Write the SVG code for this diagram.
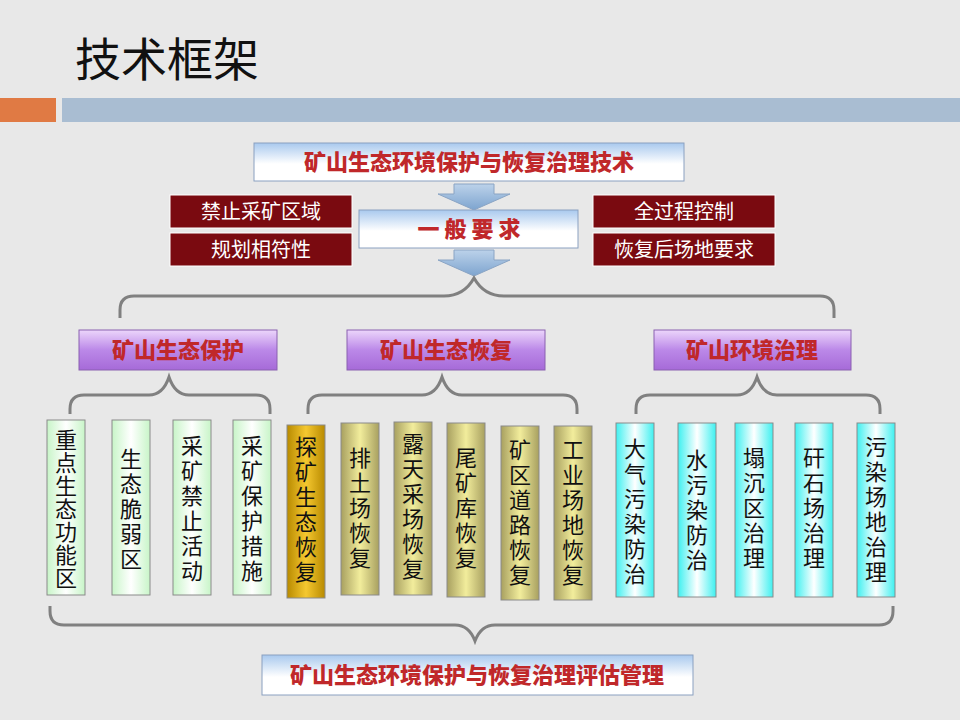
<svg xmlns="http://www.w3.org/2000/svg" width="960" height="720" viewBox="0 0 960 720">
<defs>
<linearGradient id="gBlue" x1="0" y1="0" x2="0" y2="1"><stop offset="0" stop-color="#a9c9ee"/><stop offset="0.55" stop-color="#ffffff"/><stop offset="1" stop-color="#ffffff"/></linearGradient>
<linearGradient id="gPurple" x1="0" y1="0" x2="0" y2="1"><stop offset="0" stop-color="#ecd6fb"/><stop offset="0.5" stop-color="#bb88e8"/><stop offset="1" stop-color="#a66ad8"/></linearGradient>
<linearGradient id="gGreen" x1="0" y1="0" x2="1" y2="0"><stop offset="0" stop-color="#c8f5c8"/><stop offset="0.5" stop-color="#ffffff"/><stop offset="1" stop-color="#c8f5c8"/></linearGradient>
<linearGradient id="gOlive" x1="0" y1="0" x2="1" y2="0"><stop offset="0" stop-color="#a8a060"/><stop offset="0.5" stop-color="#f2ed9c"/><stop offset="1" stop-color="#a8a060"/></linearGradient>
<linearGradient id="gGold" x1="0" y1="0" x2="1" y2="0"><stop offset="0" stop-color="#b88a00"/><stop offset="0.5" stop-color="#f5c830"/><stop offset="1" stop-color="#b88a00"/></linearGradient>
<linearGradient id="gCyan" x1="0" y1="0" x2="1" y2="0"><stop offset="0" stop-color="#3ef0f0"/><stop offset="0.5" stop-color="#ffffff"/><stop offset="1" stop-color="#3ef0f0"/></linearGradient>
<linearGradient id="gArrow" x1="0" y1="0" x2="0" y2="1"><stop offset="0" stop-color="#bcd2ea"/><stop offset="1" stop-color="#7da4cf"/></linearGradient>
</defs>
<style>
text{font-family:"Liberation Sans","Noto Sans CJK SC",sans-serif}
.hd{font-family:"Noto Sans CJK SC",serif;font-weight:900;fill:#c0282a;font-size:22px;text-anchor:middle}
.rb{fill:#7a0a10;stroke:#ffffff;stroke-width:1}
.rt{fill:#ffffff;font-size:20px;text-anchor:middle}
.vt{font-size:22px;fill:#111;text-anchor:middle}
.br{fill:none;stroke:#808080;stroke-width:3}
.col{stroke:#8a8a8a;stroke-width:1}
</style>
<rect width="960" height="720" fill="#e8e8e8"/>
<text x="75" y="76" font-size="46" fill="#111" font-family="Noto Sans CJK SC,sans-serif">技术框架</text>
<rect x="0" y="98" width="56" height="24" fill="#e07a44"/>
<rect x="62" y="98" width="898" height="24" fill="#a9bdd2"/>

<g id="connectors">
<path d="M454 184h40v10h16l-36 16l-36-16h16z" fill="url(#gArrow)" stroke="#8aa4c4"/>
<path d="M454 250h40v10h16l-36 16l-36-16h16z" fill="url(#gArrow)" stroke="#8aa4c4"/>
<path class="br" d="M120 318v-8q0-14 14-14h310q20 0 30-18q10 18 30 18h316q14 0 14 14v8"/>
<path class="br" d="M70 414v-5q0-14 14-14h65q14 0 20-18q6 18 20 18h67q14 0 14 14v5"/>
<path class="br" d="M308 414v-5q0-14 14-14h100q14 0 20-18q6 18 20 18h101q14 0 14 14v5"/>
<path class="br" d="M636 414v-5q0-14 14-14h87q14 0 20-18q6 18 20 18h89q14 0 14 14v5"/>
<path class="br" d="M50 606v5q0 14 14 14h391q14 0 20 16q6-16 20-16h384q14 0 14-14v-5"/>
</g>

<g id="top"><rect x="254" y="143" width="430" height="38" fill="url(#gBlue)" stroke="#8aa0c0"/><text class="hd" x="469" y="170">矿山生态环境保护与恢复治理技术</text></g>
<g id="general"><rect x="359" y="210" width="219" height="38" fill="url(#gBlue)" stroke="#8aa0c0"/><text class="hd" x="469" y="237" font-size="22">一  般  要  求</text></g>
<g id="r1"><rect class="rb" x="170" y="195" width="182" height="33"/><text class="rt" x="261" y="219">禁止采矿区域</text></g>
<g id="r2"><rect class="rb" x="170" y="233" width="182" height="33"/><text class="rt" x="261" y="257">规划相符性</text></g>
<g id="r3"><rect class="rb" x="593" y="195" width="182" height="33"/><text class="rt" x="684" y="219">全过程控制</text></g>
<g id="r4"><rect class="rb" x="593" y="233" width="182" height="33"/><text class="rt" x="684" y="257">恢复后场地要求</text></g>

<g id="p1"><rect x="79" y="330" width="198" height="40" fill="url(#gPurple)" stroke="#8a60b0"/><text class="hd" x="178" y="358">矿山生态保护</text></g>
<g id="p2"><rect x="347" y="330" width="198" height="40" fill="url(#gPurple)" stroke="#8a60b0"/><text class="hd" x="446" y="358">矿山生态恢复</text></g>
<g id="p3"><rect x="654" y="330" width="197" height="40" fill="url(#gPurple)" stroke="#8a60b0"/><text class="hd" x="752" y="358">矿山环境治理</text></g>

<g id="g1"><rect class="col" x="47" y="420" width="38" height="175" fill="url(#gGreen)"/><text class="vt" x="66"><tspan x="66" y="448">重</tspan><tspan x="66" y="471">点</tspan><tspan x="66" y="494">生</tspan><tspan x="66" y="517">态</tspan><tspan x="66" y="540">功</tspan><tspan x="66" y="563">能</tspan><tspan x="66" y="586">区</tspan></text></g>
<g id="g2"><rect class="col" x="112" y="420" width="38" height="175" fill="url(#gGreen)"/><text class="vt"><tspan x="131" y="467">生</tspan><tspan x="131" y="492">态</tspan><tspan x="131" y="517">脆</tspan><tspan x="131" y="542">弱</tspan><tspan x="131" y="567">区</tspan></text></g>
<g id="g3"><rect class="col" x="173" y="420" width="38" height="175" fill="url(#gGreen)"/><text class="vt"><tspan x="192" y="454">采</tspan><tspan x="192" y="479">矿</tspan><tspan x="192" y="504">禁</tspan><tspan x="192" y="529">止</tspan><tspan x="192" y="554">活</tspan><tspan x="192" y="579">动</tspan></text></g>
<g id="g4"><rect class="col" x="233" y="420" width="38" height="175" fill="url(#gGreen)"/><text class="vt"><tspan x="252" y="454">采</tspan><tspan x="252" y="479">矿</tspan><tspan x="252" y="504">保</tspan><tspan x="252" y="529">护</tspan><tspan x="252" y="554">措</tspan><tspan x="252" y="579">施</tspan></text></g>

<g id="o1"><rect class="col" x="287" y="425" width="38" height="173" fill="url(#gGold)"/><text class="vt"><tspan x="306" y="455">探</tspan><tspan x="306" y="480">矿</tspan><tspan x="306" y="505">生</tspan><tspan x="306" y="530">态</tspan><tspan x="306" y="555">恢</tspan><tspan x="306" y="580">复</tspan></text></g>
<g id="o2"><rect class="col" x="341" y="423" width="38" height="172" fill="url(#gOlive)"/><text class="vt"><tspan x="360" y="466">排</tspan><tspan x="360" y="491">土</tspan><tspan x="360" y="516">场</tspan><tspan x="360" y="541">恢</tspan><tspan x="360" y="566">复</tspan></text></g>
<g id="o3"><rect class="col" x="394" y="422" width="38" height="173" fill="url(#gOlive)"/><text class="vt"><tspan x="413" y="452">露</tspan><tspan x="413" y="477">天</tspan><tspan x="413" y="502">采</tspan><tspan x="413" y="527">场</tspan><tspan x="413" y="552">恢</tspan><tspan x="413" y="577">复</tspan></text></g>
<g id="o4"><rect class="col" x="447" y="423" width="38" height="174" fill="url(#gOlive)"/><text class="vt"><tspan x="466" y="466">尾</tspan><tspan x="466" y="491">矿</tspan><tspan x="466" y="516">库</tspan><tspan x="466" y="541">恢</tspan><tspan x="466" y="566">复</tspan></text></g>
<g id="o5"><rect class="col" x="501" y="426" width="38" height="174" fill="url(#gOlive)"/><text class="vt"><tspan x="520" y="458">矿</tspan><tspan x="520" y="483">区</tspan><tspan x="520" y="508">道</tspan><tspan x="520" y="533">路</tspan><tspan x="520" y="558">恢</tspan><tspan x="520" y="583">复</tspan></text></g>
<g id="o6"><rect class="col" x="554" y="426" width="38" height="174" fill="url(#gOlive)"/><text class="vt"><tspan x="573" y="458">工</tspan><tspan x="573" y="483">业</tspan><tspan x="573" y="508">场</tspan><tspan x="573" y="533">地</tspan><tspan x="573" y="558">恢</tspan><tspan x="573" y="583">复</tspan></text></g>

<g id="c1"><rect class="col" x="616" y="423" width="38" height="174" fill="url(#gCyan)"/><text class="vt"><tspan x="635" y="457">大</tspan><tspan x="635" y="482">气</tspan><tspan x="635" y="507">污</tspan><tspan x="635" y="532">染</tspan><tspan x="635" y="557">防</tspan><tspan x="635" y="582">治</tspan></text></g>
<g id="c2"><rect class="col" x="678" y="423" width="38" height="174" fill="url(#gCyan)"/><text class="vt"><tspan x="697" y="468">水</tspan><tspan x="697" y="493">污</tspan><tspan x="697" y="518">染</tspan><tspan x="697" y="543">防</tspan><tspan x="697" y="568">治</tspan></text></g>
<g id="c3"><rect class="col" x="735" y="423" width="38" height="174" fill="url(#gCyan)"/><text class="vt"><tspan x="754" y="466">塌</tspan><tspan x="754" y="491">沉</tspan><tspan x="754" y="516">区</tspan><tspan x="754" y="541">治</tspan><tspan x="754" y="566">理</tspan></text></g>
<g id="c4"><rect class="col" x="795" y="423" width="38" height="174" fill="url(#gCyan)"/><text class="vt"><tspan x="814" y="466">矸</tspan><tspan x="814" y="491">石</tspan><tspan x="814" y="516">场</tspan><tspan x="814" y="541">治</tspan><tspan x="814" y="566">理</tspan></text></g>
<g id="c5"><rect class="col" x="857" y="423" width="38" height="174" fill="url(#gCyan)"/><text class="vt"><tspan x="876" y="455">污</tspan><tspan x="876" y="480">染</tspan><tspan x="876" y="505">场</tspan><tspan x="876" y="530">地</tspan><tspan x="876" y="555">治</tspan><tspan x="876" y="580">理</tspan></text></g>

<g id="bottom"><rect x="262" y="655" width="431" height="40" fill="url(#gBlue)" stroke="#8aa0c0"/><text class="hd" x="477" y="683">矿山生态环境保护与恢复治理评估管理</text></g>
</svg>
